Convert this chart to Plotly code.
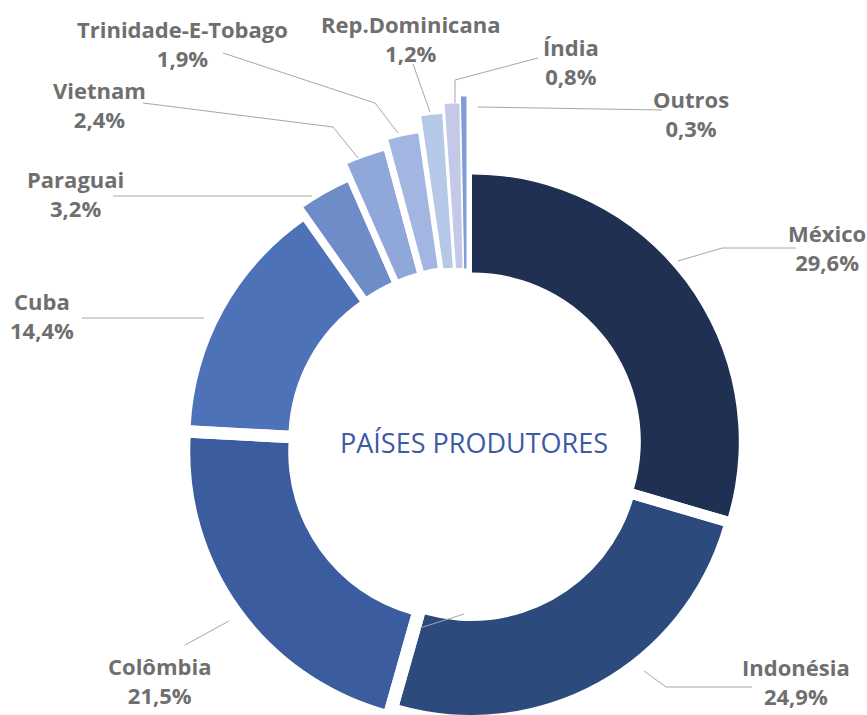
import math
import plotly.graph_objects as go

# Data
countries = ["México", "Indonésia", "Colômbia", "Cuba", "Paraguai", "Vietnam",
             "Trinidade-E-Tobago", "Rep.Dominicana", "Índia", "Outros"]
shares = [29.6, 24.9, 21.5, 14.4, 3.2, 2.4, 1.9, 1.2, 0.8, 0.3]

# Styles
colors = ["#1F3052", "#2D4A7C", "#3B5C9F", "#4D72B8", "#6E8CC8", "#8FA8D9",
          "#A2B6E1", "#B5C8E8", "#C4C9E7", "#7F9CD4"]
pull_px = [6, 8, 12, 11]                     # explosion of the four big slices
outer_r = [267, 267, 267, 267, 292, 309, 319, 334, 343, 349]   # px
small_gap = [7, 7, 7, 4, 2.5, 1]             # white outline of the small slices

W, H = 867, 715
CX, CY = 467, 445      # donut centre (px from top-left)
R_IN_BIG = 169
R_IN_SMALL = 176
R_SMALL = 352          # quarter polar radius for the tall small slices

label_color = "#6F6F6F"
line_color = "#A6A6A6"


def px(x, y):
    return x / W, 1 - y / H


def sector_bbox(a0, a1):
    # same bounding box plotly uses for a polar sector (origin included)
    pts = [(0.0, 0.0)]
    for a in [a0, a1] + [k * 90 for k in range(-8, 9) if a0 < k * 90 < a1]:
        pts.append((math.cos(math.radians(a)), math.sin(math.radians(a))))
    xs = [p[0] for p in pts]
    ys = [p[1] for p in pts]
    return min(xs), min(ys), max(xs), max(ys)


def polar_domain(cx, cy, a0, a1, R):
    x0, y0, x1, y1 = sector_bbox(a0, a1)
    if cy - R * y0 > H:                       # keep the domain inside the page
        R = (H - cy) / (-y0)
    dom = dict(x=[(cx + R * x0) / W, (cx + R * x1) / W],
               y=[1 - (cy - R * y0) / H, 1 - (cy - R * y1) / H])
    return dom, R


axis_style = dict(
    angularaxis=dict(visible=False, rotation=90, direction="clockwise"),
    bgcolor="rgba(0,0,0,0)",
)

# slice angles from the data (clockwise from 12 o'clock)
total = sum(shares)
widths = [s / total * 360 for s in shares]
starts, mids = [], []
acc = 0
for w in widths:
    starts.append(acc)
    mids.append(acc + w / 2)
    acc += w

fig = go.Figure()
polars = {}

# big slices: one sector subplot each, shifted outwards along the bisector
for k in range(4):
    name = "polar" if k == 0 else f"polar{k + 1}"
    m = math.radians(mids[k])
    cx = CX + pull_px[k] * math.sin(m)
    cy = CY - pull_px[k] * math.cos(m)
    a0 = 90 - (starts[k] + widths[k])
    a1 = 90 - starts[k]
    dom, R = polar_domain(cx, cy, a0, a1, outer_r[k] + 2)
    polars[name] = dict(domain=dom, sector=[a0, a1],
                        radialaxis=dict(visible=False, range=[0, R]), **axis_style)
    fig.add_trace(go.Barpolar(
        theta=[mids[k]], width=[widths[k]],
        base=[R_IN_BIG], r=[outer_r[k] - R_IN_BIG],
        marker=dict(color=colors[k], line=dict(width=0)),
        subplot=name, hovertext=[countries[k]], hoverinfo="text",
    ))

# small slices: quarter sector subplot so they can reach above the ring
dom, R = polar_domain(CX, CY, 90, 180, R_SMALL)
polars["polar5"] = dict(domain=dom, sector=[90, 180],
                        radialaxis=dict(visible=False, range=[0, R]), **axis_style)
fig.add_trace(go.Barpolar(
    theta=mids[4:], width=widths[4:],
    base=[R_IN_SMALL] * 6, r=[o - R_IN_SMALL for o in outer_r[4:]],
    marker=dict(color=colors[4:], line=dict(color="white", width=small_gap)),
    subplot="polar5", hovertext=countries[4:], hoverinfo="text",
))

fig.update_layout(
    width=W, height=H,
    margin=dict(l=0, r=0, t=0, b=0),
    paper_bgcolor="white",
    showlegend=False,
    **polars,
)

# label block centres (px) and leader polylines (px)
label_pos = {
    "México": (827, 247),
    "Indonésia": (796, 681),
    "Colômbia": (160, 680),
    "Cuba": (42, 315),
    "Paraguai": (75, 193),
    "Vietnam": (99, 104),
    "Trinidade-E-Tobago": (182, 43),
    "Rep.Dominicana": (410, 38),
    "Índia": (571, 62),
    "Outros": (691, 113),
}
leaders = {
    "México": [(678, 261), (722, 248), (796, 248)],
    "Indonésia": [(644, 671), (666, 687), (752, 687)],
    "Colômbia": [(229, 621), (185, 645)],
    "Cuba": [(204, 318), (82, 318)],
    "Paraguai": [(312, 196), (113, 196)],
    "Vietnam": [(358, 158), (333, 127), (143, 103)],
    "Trinidade-E-Tobago": [(398, 133), (375, 103), (223, 53)],
    "Rep.Dominicana": [(430, 112), (413, 64)],
    "Índia": [(455, 103), (455, 80), (538, 58)],
    "Outros": [(478, 107), (662, 110)],
}

for name, pts in leaders.items():
    for (x0, y0), (x1, y1) in zip(pts[:-1], pts[1:]):
        a, b = px(x0, y0)
        c, d = px(x1, y1)
        fig.add_shape(type="line", xref="paper", yref="paper",
                      x0=a, y0=b, x1=c, y1=d,
                      line=dict(color=line_color, width=1))

# stray connector inside the hole
a, b = px(420, 628)
c, d = px(464, 614)
fig.add_shape(type="line", xref="paper", yref="paper", x0=a, y0=b, x1=c, y1=d,
              line=dict(color=line_color, width=1))

for name, s in zip(countries, shares):
    x, y = px(*label_pos[name])
    pct = f"{s:.1f}".replace(".", ",") + "%"
    fig.add_annotation(
        x=x, y=y, xref="paper", yref="paper",
        text=f"{name}<br>{pct}", showarrow=False, align="center",
        xanchor="center", yanchor="middle",
        font=dict(family="Open Sans", size=22, color=label_color, weight="bold"),
    )

x, y = px(474, 443)
fig.add_annotation(
    x=x, y=y, xref="paper", yref="paper", text="PAÍSES PRODUTORES",
    showarrow=False, xanchor="center", yanchor="middle",
    font=dict(family="Open Sans", size=27, color="#3B5BA5"),
)

# drop the default page margin so the figure sits flush in the window
fig.write_html("out.html", config={"displayModeBar": False},
               post_script="document.body.style.margin = '0';")
